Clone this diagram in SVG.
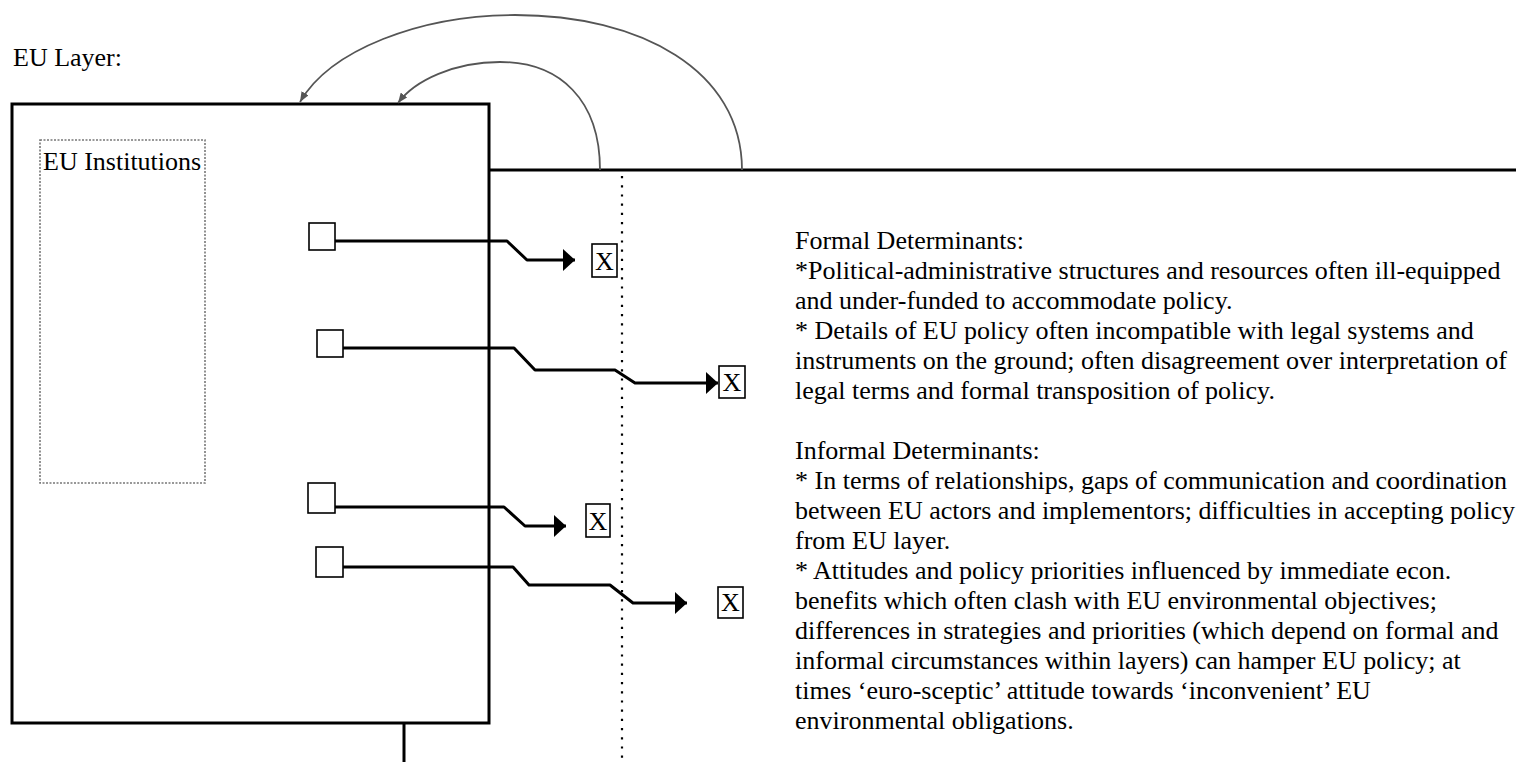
<svg xmlns="http://www.w3.org/2000/svg" width="1516" height="762" viewBox="0 0 1516 762">
  <style>
    .t { font-family: "Liberation Serif", "Times New Roman", serif; font-size: 26px; fill: #000; }
    .frame { fill: none; stroke: #000; stroke-width: 3; }
    .node { fill: #fff; stroke: #000; stroke-width: 1.6; }
    .flow { fill: none; stroke: #000; stroke-width: 3; stroke-linejoin: round; }
    .arc { fill: none; stroke: #555; stroke-width: 1.8; }
    .dots { fill: none; stroke: #000; stroke-width: 2.2; stroke-dasharray: 2.2 7; }
    .inst { fill: none; stroke: #777; stroke-width: 1.6; stroke-dasharray: 2 1.5; }
  </style>
  <defs>
    <marker id="head" viewBox="0 0 12 22" refX="12" refY="11" markerWidth="12" markerHeight="22" markerUnits="userSpaceOnUse" orient="auto">
      <path d="M0,0 L12,11 L0,22 Z" fill="#000"/>
    </marker>
    <marker id="grey-head" viewBox="0 0 10 8" refX="10" refY="4" markerWidth="10" markerHeight="8" markerUnits="userSpaceOnUse" orient="auto">
      <path d="M0,0 L10,4 L0,8 Z" fill="#555"/>
    </marker>
  </defs>
  <rect width="1516" height="762" fill="#fff"/>

  <!-- layer caption -->
  <text class="t" x="13" y="66">EU Layer:</text>

  <!-- EU layer frame with stem and boundary lines -->
  <g id="eu-layer">
    <rect class="frame" x="12" y="104" width="477" height="619"/>
    <line class="frame" x1="404" y1="723" x2="404" y2="762"/>
    <line class="frame" x1="489" y1="170" x2="1516" y2="170"/>
    <line class="dots" x1="622" y1="176" x2="622" y2="762"/>
  </g>

  <!-- institutions box -->
  <g id="eu-institutions">
    <rect class="inst" x="40" y="140" width="165" height="343"/>
    <text class="t" x="43" y="170">EU Institutions</text>
  </g>

  <!-- sources inside the EU layer -->
  <g id="source-1"><rect class="node" x="309" y="223" width="26" height="27"/></g>
  <g id="source-2"><rect class="node" x="317" y="330" width="26" height="27"/></g>
  <g id="source-3"><rect class="node" x="308" y="483" width="27" height="30"/></g>
  <g id="source-4"><rect class="node" x="316" y="547" width="27" height="30"/></g>

  <!-- targets outside -->
  <g id="target-1"><rect class="node" x="592" y="244" width="25" height="33"/><text class="t" x="604.5" y="270" text-anchor="middle" font-size="24">X</text></g>
  <g id="target-2"><rect class="node" x="719" y="366" width="26" height="32"/><text class="t" x="732" y="391" text-anchor="middle" font-size="24">X</text></g>
  <g id="target-3"><rect class="node" x="586" y="504" width="24" height="33"/><text class="t" x="598" y="530" text-anchor="middle" font-size="24">X</text></g>
  <g id="target-4"><rect class="node" x="718" y="587" width="25" height="31"/><text class="t" x="730.5" y="611" text-anchor="middle" font-size="24">X</text></g>

  <!-- connectors -->
  <g id="connectors">
    <path class="flow" d="M335,241 H507 L527,260 H575" marker-end="url(#head)"/>
    <path class="flow" d="M343,348 H514 L535,370 H615 L635,383 H718" marker-end="url(#head)"/>
    <path class="flow" d="M335,507 H504 L525,526 H566" marker-end="url(#head)"/>
    <path class="flow" d="M343,567 H513 L529,585 H610 L633,603 H687" marker-end="url(#head)"/>
    <path class="arc" d="M742,170 C742,70 640,15 515,15 C420,15 330,50 300,102" marker-end="url(#grey-head)"/>
    <path class="arc" d="M600,170 C600,100 560,62 500,62 C455,62 415,80 398,103" marker-end="url(#grey-head)"/>
  </g>

  <!-- determinants -->
  <g id="determinants">
    <text class="t" x="795" y="249">
      <tspan x="795" dy="0">Formal Determinants:</tspan>
      <tspan x="795" dy="30">*Political-administrative structures and resources often ill-equipped</tspan>
      <tspan x="795" dy="30">and under-funded to accommodate policy.</tspan>
      <tspan x="795" dy="30">* Details of EU policy often incompatible with legal systems and</tspan>
      <tspan x="795" dy="30">instruments on the ground; often disagreement over interpretation of</tspan>
      <tspan x="795" dy="30">legal terms and formal transposition of policy.</tspan>
      <tspan x="795" dy="60">Informal Determinants:</tspan>
      <tspan x="795" dy="30">* In terms of relationships, gaps of communication and coordination</tspan>
      <tspan x="795" dy="30">between EU actors and implementors; difficulties in accepting policy</tspan>
      <tspan x="795" dy="30">from EU layer.</tspan>
      <tspan x="795" dy="30">* Attitudes and policy priorities influenced by immediate econ.</tspan>
      <tspan x="795" dy="30">benefits which often clash with EU environmental objectives;</tspan>
      <tspan x="795" dy="30">differences in strategies and priorities (which depend on formal and</tspan>
      <tspan x="795" dy="30">informal circumstances within layers) can hamper EU policy; at</tspan>
      <tspan x="795" dy="30">times ‘euro-sceptic’ attitude towards ‘inconvenient’ EU</tspan>
      <tspan x="795" dy="30">environmental obligations.</tspan>
    </text>
  </g>
</svg>
